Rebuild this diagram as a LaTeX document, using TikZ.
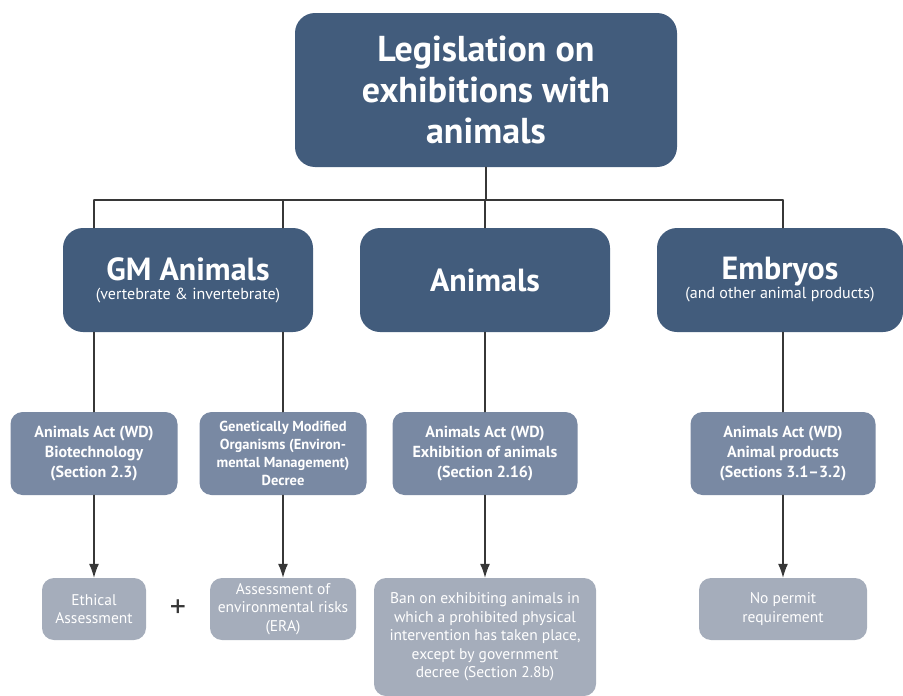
\documentclass[tikz,border=0pt]{standalone}
\usepackage{fontspec}
\setmainfont{PT Sans}
\usetikzlibrary{arrows.meta}
\definecolor{darkbox}{RGB}{66,92,124}
\definecolor{midbox}{RGB}{121,137,163}
\definecolor{lightbox}{RGB}{165,173,187}
\definecolor{linegray}{RGB}{55,55,55}

\begin{document}
\begin{tikzpicture}[x=1pt,y=-1pt,>={Latex[length=14pt,width=10pt]},line cap=round,
  headbox/.style={draw=none,fill=darkbox,rounded corners=20pt,text=white,align=center,inner sep=0pt},
  lawbox/.style={draw=none,fill=midbox,rounded corners=12pt,text=white,align=center,inner sep=0pt,
    font=\fontsize{16}{20}\selectfont\bfseries},
  endbox/.style={draw=none,fill=lightbox,rounded corners=12pt,text=white,align=center,inner sep=0pt,
    font=\fontsize{15.5}{18.5}\selectfont},
  link/.style={draw=linegray,line width=1.2pt}]
\useasboundingbox (0,0) rectangle (903,696);
\node[headbox,minimum width=382pt,minimum height=154pt,font=\fontsize{36}{41}\selectfont\bfseries] (top) at (486,90)
  {Legislation on\\exhibitions with\\animals};
\node[headbox,minimum width=250pt,minimum height=104pt,font=\fontsize{16}{19}\selectfont] (gm) at (188,280)
  {{\fontsize{32}{34}\selectfont\bfseries GM Animals}\\(vertebrate \& invertebrate)};
\node[headbox,minimum width=250pt,minimum height=104pt,font=\fontsize{32}{34}\selectfont\bfseries] (anim) at (485,280)
  {Animals};
\node[headbox,minimum width=246pt,minimum height=104pt,font=\fontsize{16}{19}\selectfont] (emb) at (780,280)
  {{\fontsize{32}{34}\selectfont\bfseries Embryos}\\(and other animal products)};
\node[lawbox,minimum width=167pt,minimum height=83pt] (biotech) at (94,453.5)
  {Animals Act (WD)\\Biotechnology\\(Section 2.3)};
\node[lawbox,minimum width=167pt,minimum height=83pt,font=\fontsize{14.5}{18}\selectfont\bfseries] (gmo) at (283,453.5)
  {Genetically Modified\\Organisms (Environ-\\mental Management)\\Decree};
\node[lawbox,minimum width=185pt,minimum height=83pt] (exhib) at (485,453.5)
  {Animals Act (WD)\\Exhibition of animals\\(Section 2.16)};
\node[lawbox,minimum width=185pt,minimum height=83pt] (prod) at (783,453.5)
  {Animals Act (WD)\\Animal products\\(Sections 3.1--3.2)};
\node[endbox,minimum width=104pt,minimum height=62pt] (ethic) at (94,609)
  {Ethical\\Assessment};
\node[endbox,minimum width=146pt,minimum height=62pt] (era) at (283,609)
  {Assessment of\\environmental risks\\(ERA)};
\node[endbox,minimum width=222pt,minimum height=118pt] (ban) at (485,637)
  {Ban on exhibiting animals in\\which a prohibited physical\\intervention has taken place,\\except by government\\decree (Section 2.8b)};
\node[endbox,minimum width=168pt,minimum height=62pt] (permit) at (783,609)
  {No permit\\requirement};
\node[font=\fontsize{32}{32}\selectfont,text=linegray] (plus) at (178,609) {+};
\coordinate (bus) at (486,200);
\draw[link] (top.south) -- (bus);
\draw[link] (biotech.north |- bus) -- (prod.north |- bus);
\draw[link] (biotech.north |- bus) -- (biotech.north |- gm.north);
\draw[link] (gmo.north |- bus) -- (gmo.north |- gm.north);
\draw[link] (exhib.north |- bus) -- (anim.north);
\draw[link] (prod.north |- bus) -- (emb.north -| prod.north);
\draw[link] (biotech.north |- gm.south) -- (biotech.north);
\draw[link] (gmo.north |- gm.south) -- (gmo.north);
\draw[link] (anim.south) -- (exhib.north);
\draw[link] (emb.south -| prod.north) -- (prod.north);
\draw[link,->] (biotech) -- (ethic);
\draw[link,->] (gmo) -- (era);
\draw[link,->] (exhib) -- (ban);
\draw[link,->] (prod) -- (permit);
\end{tikzpicture}
\end{document}
